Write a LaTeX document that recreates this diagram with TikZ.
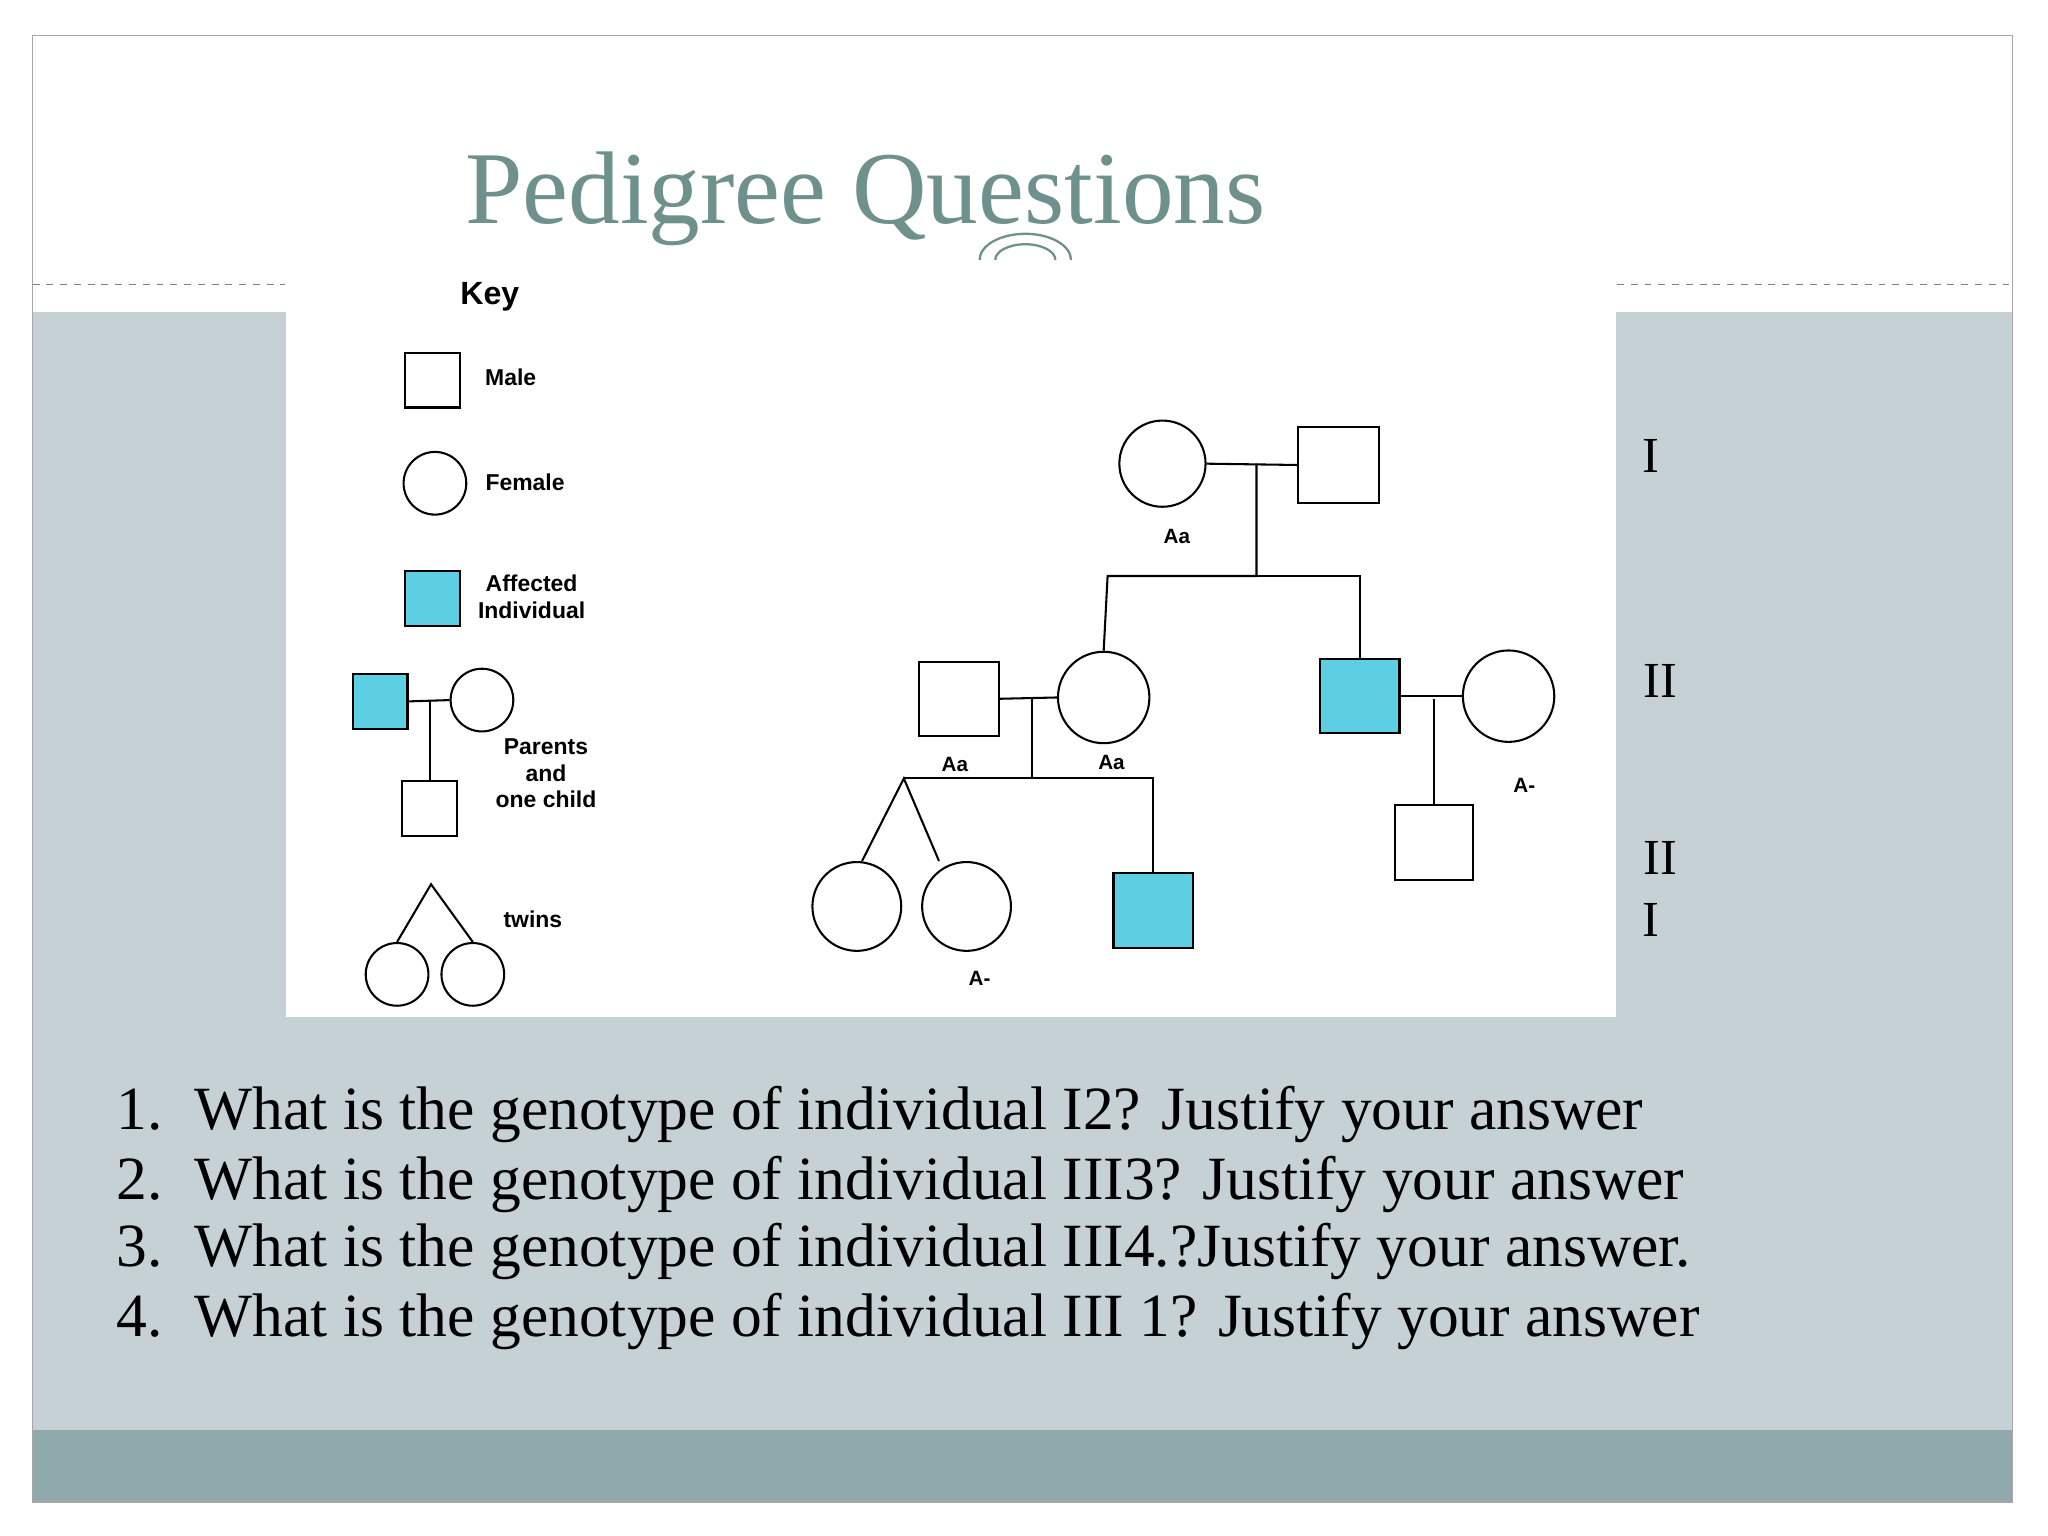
\documentclass[tikz,border=0pt]{standalone}
\usepackage{fontspec}
\setmainfont{Liberation Serif}
\setsansfont{Liberation Sans}
\definecolor{slate}{HTML}{C5D1D4}
\definecolor{band}{HTML}{8FA9AC}
\definecolor{ttl}{HTML}{6F918D}
\definecolor{aff}{HTML}{5DCFE3}
\begin{document}
\begin{tikzpicture}[x=0.02cm,y=-0.02cm,
  sym/.style={draw=black,line width=0.9pt},
  lbl/.style={font=\sffamily\bfseries\fontsize{10}{11.5}\selectfont,align=center},
  gt/.style={font=\sffamily\bfseries\fontsize{9}{10}\selectfont},
  rom/.style={font=\fontsize{22}{24}\selectfont},
  q/.style={font=\fontsize{26.8}{29}\selectfont,anchor=base west}]
\useasboundingbox (0,0) rectangle (1568,1176);
\fill[white] (0,0) rectangle (1568,1176);
\fill[slate] (25,239) rectangle (1541,1095);
\fill[band] (25,1095) rectangle (1541,1150);
\draw[gray!70,line width=0.6pt] (25,27) rectangle (1541,1150);
\draw[gray,dashed,line width=0.5pt] (25,218) -- (218,218) (1238,218) -- (1541,218);
\fill[white] (219,205) rectangle (1237,779);
\node[anchor=west,text=ttl,font=\fontsize{45}{50}\selectfont] (title) at (350,152) {Pedigree Questions};
\draw[ttl,line width=1pt] (750,199) arc (180:360:35 and 20);
\draw[ttl,line width=1pt] (762,199) arc (180:360:23 and 12);
% key
\node[font=\sffamily\bfseries\fontsize{14}{16}\selectfont] (key) at (375,227) {Key};
\node[sym,rectangle,minimum width=42*0.02cm,minimum height=42*0.02cm] (km) at (331,291) {};
\node[lbl] at (391,289) {Male};
\node[sym,circle,minimum size=48*0.02cm] (kf) at (333,370) {};
\node[lbl] at (402,369) {Female};
\node[sym,fill=aff,minimum width=42*0.02cm,minimum height=42*0.02cm] (ka) at (331,458) {};
\node[lbl] at (407,457) {Affected\\Individual};
\node[sym,fill=aff,minimum width=42*0.02cm,minimum height=42*0.02cm] (kp1) at (291,537) {};
\node[sym,circle,minimum size=48*0.02cm] (kp2) at (369,536) {};
\node[sym,minimum width=42*0.02cm,minimum height=42*0.02cm] (kc) at (329,619) {};
\draw[sym] (kp1.east) -- (kp2.west);
\coordinate (km1) at (329,537);
\draw[sym] (km1) -- (kc.north);
\node[lbl] at (418,592) {Parents\\and\\one child};
\node[sym,circle,minimum size=48*0.02cm] (kt1) at (304,746) {};
\node[sym,circle,minimum size=48*0.02cm] (kt2) at (362,746) {};
\coordinate (kt) at (330,677);
\draw[sym] (kt1.north) -- (kt) -- (kt2.north);
\node[lbl] at (408,704) {twins};
% generation I
\node[sym,circle,minimum size=66*0.02cm] (i1) at (890,355) {};
\node[sym,minimum width=62*0.02cm,minimum height=58*0.02cm] (i2) at (1025,356) {};
\draw[sym] (i1.east) -- (i2.west);
\node[gt] at (901,411) {Aa};
% generation II
\node[sym,minimum width=61*0.02cm,minimum height=57*0.02cm] (ii1) at (734,535) {};
\node[sym,circle,minimum size=70*0.02cm] (ii2) at (845,534) {};
\node[sym,fill=aff,minimum width=61*0.02cm,minimum height=57*0.02cm] (ii3) at (1041,533) {};
\node[sym,circle,minimum size=70*0.02cm] (ii4) at (1155,533) {};
\draw[sym] (ii1.east) -- (ii2.west);
\draw[sym] (ii3.east) -- (ii4.west);
\coordinate (m1) at (962,355);
\draw[sym] (m1) -- (962,441) -- (848,441) -- (ii2.north);
\draw[sym] (962,441) -- (1041,441) -- (ii3.north);
\node[gt] at (731,585) {Aa};
\node[gt] at (851,584) {Aa};
\node[gt] at (1167,601) {A-};
% generation III
\node[sym,circle,minimum size=68*0.02cm] (iii1) at (656,694) {};
\node[sym,circle,minimum size=68*0.02cm] (iii2) at (740,694) {};
\node[sym,fill=aff,minimum width=61*0.02cm,minimum height=57*0.02cm] (iii3) at (883,697) {};
\node[sym,minimum width=60*0.02cm,minimum height=57*0.02cm] (iii4) at (1098,645) {};
\coordinate (m2) at (790,535);
\coordinate (tw) at (692,596);
\draw[sym] (m2) -- (790,596) -- (tw);
\draw[sym] (790,596) -- (883,596) -- (iii3.north);
\draw[sym] (iii1.north) ++(4,0) -- (tw) -- ([xshift=-12]iii2.north);
\coordinate (m3) at (1098,535);
\draw[sym] (m3) -- (iii4.north);
\node[gt] at (750,749) {A-};
% roman numerals
\node[rom] at (1264,349) {I};
\node[rom] at (1271,521) {II};
\node[rom] at (1271,657) {II};
\node[rom] at (1264,704) {I};
% questions
\node[q] at (83,865) {1.};
\node[q] at (143,865) {What is the genotype of individual I2? Justify your answer};
\node[q] at (83,918) {2.};
\node[q] at (143,918) {What is the genotype of individual III3? Justify your answer};
\node[q] at (83,970) {3.};
\node[q] at (143,970) {What is the genotype of individual III4.?Justify your answer.};
\node[q] at (83,1023) {4.};
\node[q] at (143,1023) {What is the genotype of individual III 1? Justify your answer};
\end{tikzpicture}
\end{document}
